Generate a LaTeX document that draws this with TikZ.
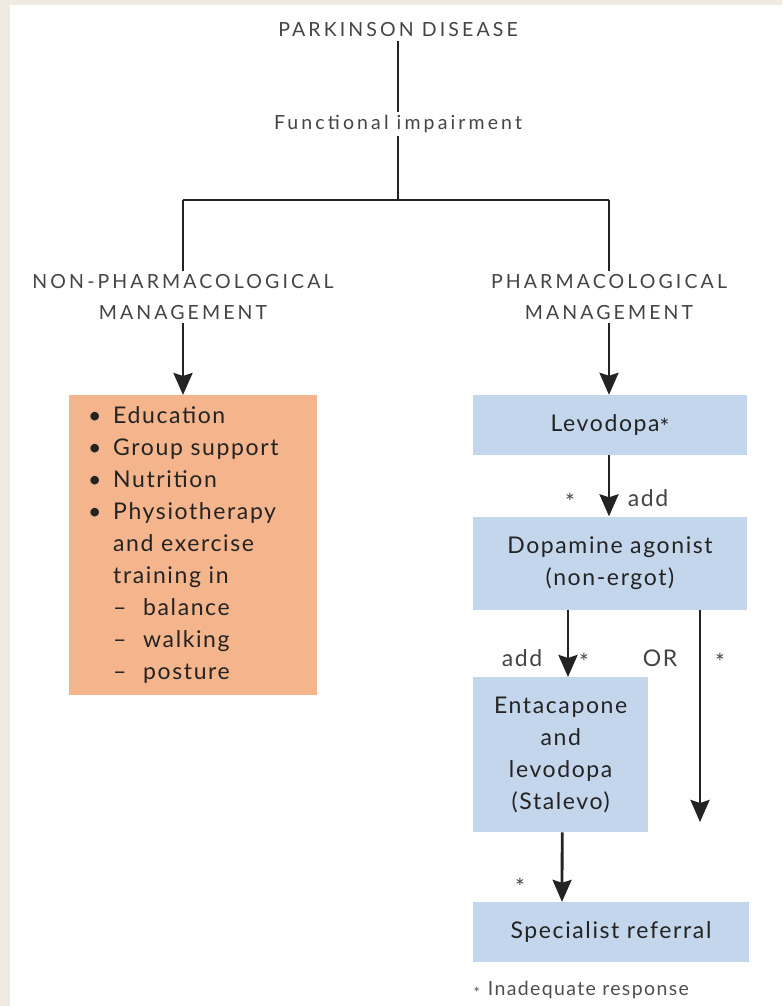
\documentclass[tikz,border=0pt]{standalone}
\usepackage{fontspec}
\usepackage{tikz}
\usetikzlibrary{arrows.meta,positioning}
\setmainfont{Lato}
\newfontfamily\headfont[LetterSpace=16]{Lato}
\newfontfamily\boxfont[LetterSpace=7]{Lato}
\definecolor{paper}{RGB}{239,235,227}
\definecolor{orangefill}{RGB}{245,181,140}
\definecolor{bluefill}{RGB}{196,214,236}
\definecolor{ink}{RGB}{35,35,35}
\tikzset{
  head/.style={font=\headfont\fontsize{19.5}{31}\selectfont, text=ink!85, align=center},
  box/.style={fill=bluefill, font=\boxfont\fontsize{23}{32}\selectfont, text=ink, align=center, inner sep=0pt},
  lbl/.style={font=\boxfont\fontsize{23}{24}\selectfont, text=ink!85},
  line/.style={line width=2.8pt, ink},
  arr/.style={line, -{Stealth[length=22pt,width=19pt,inset=3pt]}}
}
\begin{document}
\begin{tikzpicture}[x=1pt,y=-1pt]
      \useasboundingbox (0,0) rectangle (782,1006);
      \fill[paper] (0,0) rectangle (782,1006);
      \fill[white] (10,5) rectangle (782,1006);

      \node[head] (pd) at (398,30) {PARKINSON DISEASE};
      \node[head] (fi) at (398,124) {Functional impairment};
      \coordinate (split) at (398,200);
      \coordinate (lsplit) at (183,200);
      \coordinate (rsplit) at (609,200);
      \node[head] (npm) at (183,297) {NON-PHARMACOLOGICAL\\MANAGEMENT};
      \node[head] (pm) at (609,297) {PHARMACOLOGICAL\\MANAGEMENT};

      \node[box, fill=orangefill, anchor=north west, minimum width=229, minimum height=300,
            text width=210, align=left, inner xsep=19pt] (edu) at (69,395)
        {\makebox[25pt][l]{\textbullet}Education\\
         \makebox[25pt][l]{\textbullet}Group support\\
         \makebox[25pt][l]{\textbullet}Nutrition\\
         \makebox[25pt][l]{\textbullet}Physiotherapy\\
         \hspace*{25pt}and exercise\\
         \hspace*{25pt}training in\\
         \hspace*{25pt}\makebox[30pt][l]{\textendash}balance\\
         \hspace*{25pt}\makebox[30pt][l]{\textendash}walking\\
         \hspace*{25pt}\makebox[30pt][l]{\textendash}posture};

      \node[box, minimum width=274, minimum height=60] (levo) at (610,425) {Levodopa\raisebox{-4pt}{*}};
      \node[box, minimum width=274, minimum height=93] (dop) at (610,563) {Dopamine agonist\\(non-ergot)};
      \node[box, anchor=north west, minimum width=175, minimum height=155] (enta) at (473,677)
        {Entacapone\\and\\levodopa\\(Stalevo)};
      \node[box, minimum width=276, minimum height=60] (spec) at (611,932) {Specialist referral};
      \coordinate (orend) at (700,822);

      \node[lbl] (s1) at (570,502) {*};
      \node[lbl] (a1) at (648,498) {add};
      \node[lbl] (a2) at (522,658) {add};
      \node[lbl] (s2) at (584,662) {*};
      \node[lbl] (or) at (660,658) {OR};
      \node[lbl] (s3) at (720,662) {*};
      \node[lbl] (s4) at (520,887) {*};
      \node[anchor=west, font=\boxfont\fontsize{19.5}{20}\selectfont, text=ink!80] (foot) at (470,990)
        {\raisebox{-3pt}{\fontsize{15}{15}\selectfont*}\hspace*{8pt}Inadequate response};

      \draw[line] (pd.south) -- (fi.north);
      \draw[line] (fi.south) -- (split);
      \draw[line] (lsplit) -- (rsplit);
      \draw[line] (lsplit) -- (npm.north);
      \draw[line] (rsplit) -- (pm.north);
      \draw[arr] (npm.south) -- (edu.north -| npm.south);
      \draw[arr] (pm.south) -- (levo.north -| pm.south);
      \draw[arr] (levo.south -| pm.south) -- (dop.north -| pm.south);
      \draw[arr] ([xshift=-42pt]dop.south) -- (enta.north -| 568,0);
      \draw[arr] (dop.south -| orend) -- (orend);
      \draw[arr] ([xshift=1.5pt]enta.south) -- (spec.north -| 562,0);
    \end{tikzpicture}
\end{document}
